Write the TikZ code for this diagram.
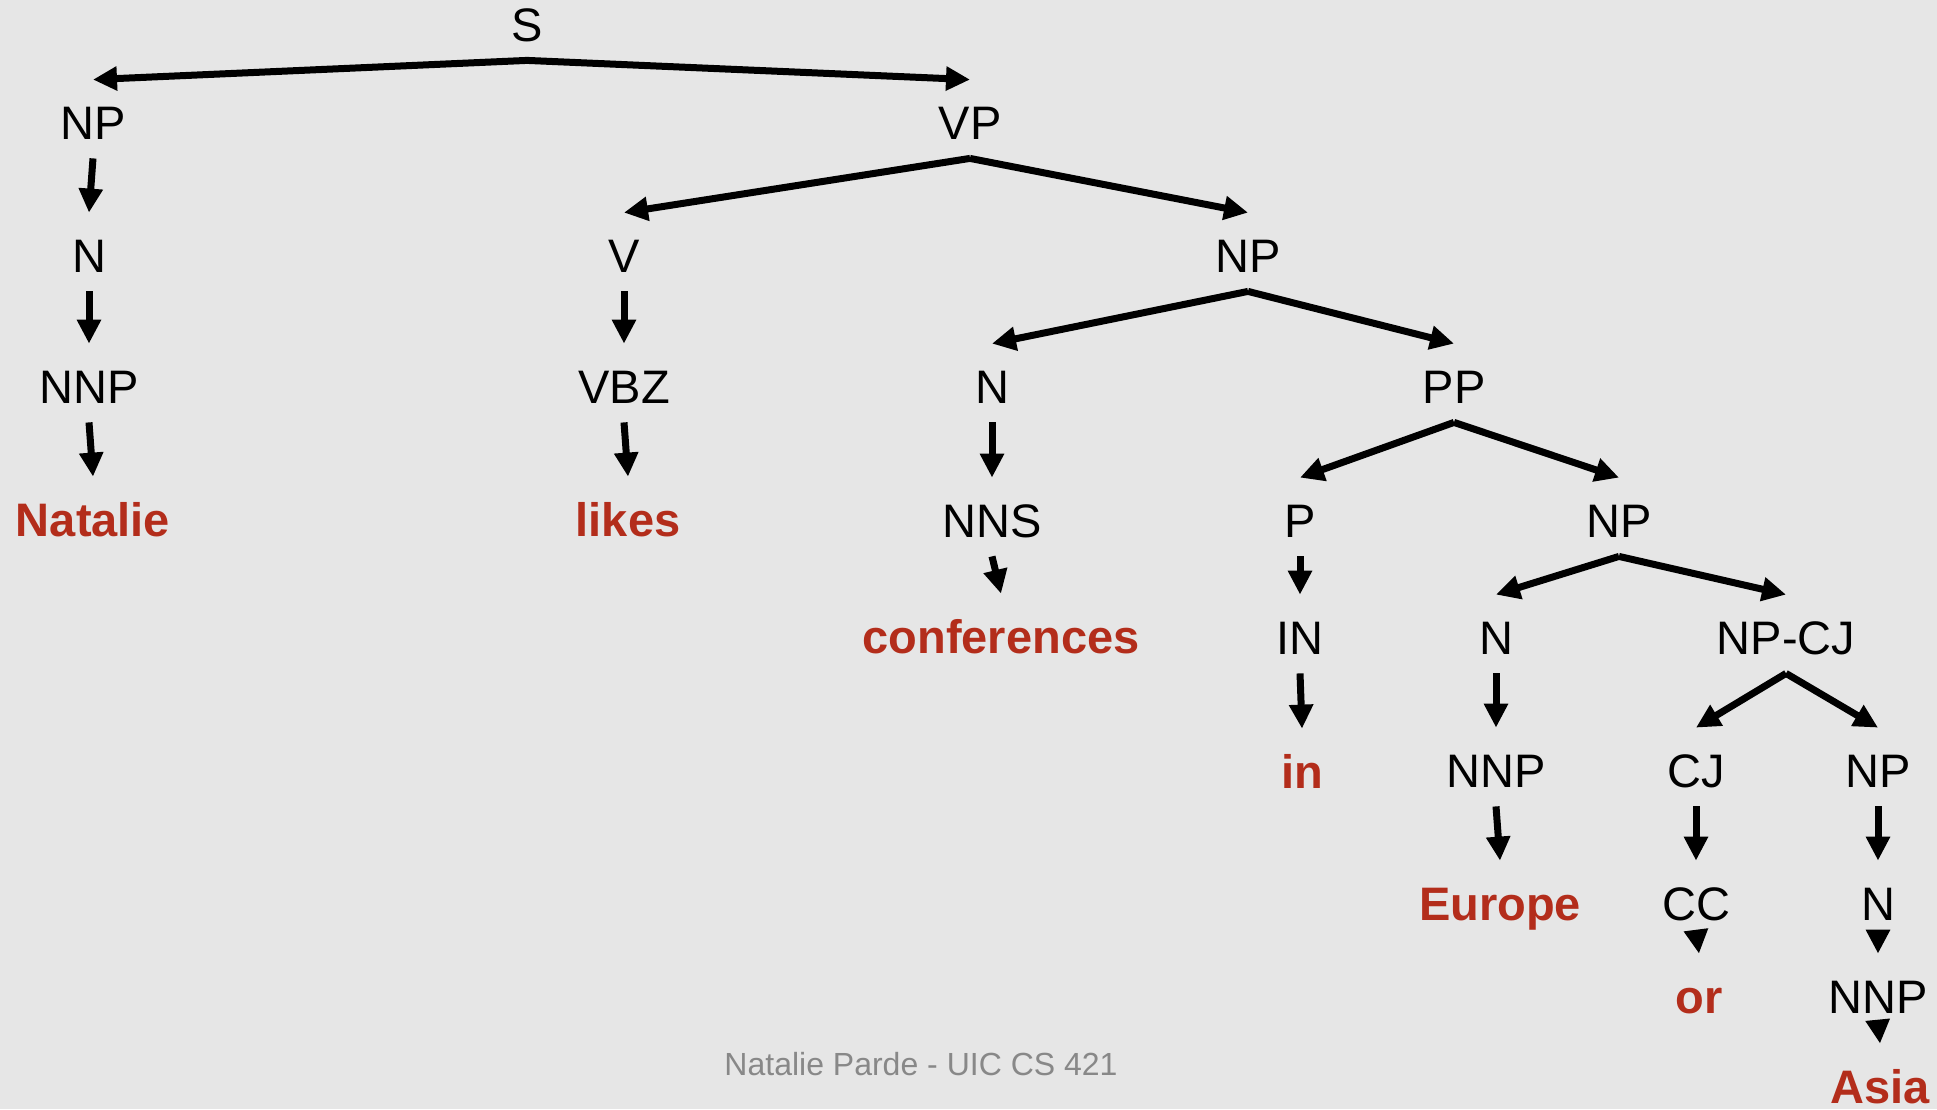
\documentclass[tikz,border=0pt]{standalone}
\usepackage{fontspec}
\setmainfont{Liberation Sans}
\usetikzlibrary{arrows.meta}
\definecolor{bg}{HTML}{E6E6E6}
\definecolor{wordred}{HTML}{B32D1B}
\definecolor{footgray}{HTML}{888888}
% edge from a parent label to a child label
\newcommand\treeedge[2]{\draw[edge] ([yshift=-9.5pt]#1.south) -- ([yshift=12.5pt]#2.north);}
% short edge (arrowhead only) between tightly packed rows
\newcommand\shortedge[2]{\draw[edge] ([yshift=-5pt]#1.south) -- ([yshift=12.5pt]#2.north);}
\begin{document}
\begin{tikzpicture}[x=0.5pt,y=-0.5pt,
  cat/.style={anchor=base, inner sep=0pt, text height=17pt, text depth=0pt,
    font=\fontsize{23.5}{28}\selectfont},
  word/.style={cat, text=wordred, font=\fontsize{23.5}{28}\selectfont\bfseries},
  edge/.style={line width=3.5pt, -{Triangle[length=12pt,width=11.5pt]}},
]
\useasboundingbox (0,0) rectangle (1937,1109);
\fill[bg] (0,0) rectangle (1937,1109);

\begin{scope}[yshift=1pt]
% row 1
\node[cat] (S) at (527,43) {S};
% row 2
\node[cat] (NPa) at (93,141) {NP};
\node[cat] (VP) at (970,141) {VP};
% row 3
\node[cat] (Na) at (89,274) {N};
\node[cat] (V) at (624,274) {V};
\node[cat] (NPb) at (1248,274) {NP};
% row 4
\node[cat] (NNPa) at (89,405) {NNP};
\node[cat] (VBZ) at (624,405) {VBZ};
\node[cat] (Nb) at (992,405) {N};
\node[cat] (PP) at (1454,405) {PP};
% row 5
\node[word] (natalie) at (93,538) {Natalie};
\node[word] (likes) at (628,538) {likes};
\node[cat] (NNS) at (992,539) {NNS};
\node[cat] (P) at (1300,539) {P};
\node[cat] (NPc) at (1619,539) {NP};
% row 6
\node[word] (conferences) at (1001,655) {conferences};
\node[cat] (IN) at (1300,656) {IN};
\node[cat] (Nc) at (1496,656) {N};
\node[cat] (NPCJ) at (1786,656) {NP-CJ};
% row 7
\node[word] (in) at (1302,790) {in};
\node[cat] (NNPb) at (1496,789) {NNP};
\node[cat] (CJ) at (1696,789) {CJ};
\node[cat] (NPd) at (1878,789) {NP};
% row 8
\node[word] (europe) at (1500,922) {Europe};
\node[cat] (CC) at (1696,922) {CC};
\node[cat] (Nd) at (1878,922) {N};
% row 9
\node[word] (or) at (1699,1015) {or};
\node[cat] (NNPc) at (1878,1015) {NNP};
% row 10
\node[word] (asia) at (1880,1105) {Asia};

% branching edges
\treeedge{S}{NPa}
\treeedge{S}{VP}
\treeedge{VP}{V}
\treeedge{VP}{NPb}
\treeedge{NPb}{Nb}
\treeedge{NPb}{PP}
\treeedge{PP}{P}
\treeedge{PP}{NPc}
\treeedge{NPc}{Nc}
\treeedge{NPc}{NPCJ}
\treeedge{NPCJ}{CJ}
\treeedge{NPCJ}{NPd}

% unary edges
\treeedge{NPa}{Na}
\treeedge{Na}{NNPa}
\treeedge{NNPa}{natalie}
\treeedge{V}{VBZ}
\treeedge{VBZ}{likes}
\treeedge{Nb}{NNS}
\treeedge{NNS}{conferences}
\treeedge{P}{IN}
\treeedge{IN}{in}
\treeedge{Nc}{NNPb}
\treeedge{NNPb}{europe}
\treeedge{CJ}{CC}
\treeedge{NPd}{Nd}
\shortedge{CC}{or}
\shortedge{Nd}{NNPc}
\shortedge{NNPc}{asia}
\end{scope}

% footer
\node[anchor=base, inner sep=0pt, text=footgray, font=\fontsize{16}{19}\selectfont]
  (footer) at (921,1075) {Natalie Parde - UIC CS 421};
\end{tikzpicture}
\end{document}
